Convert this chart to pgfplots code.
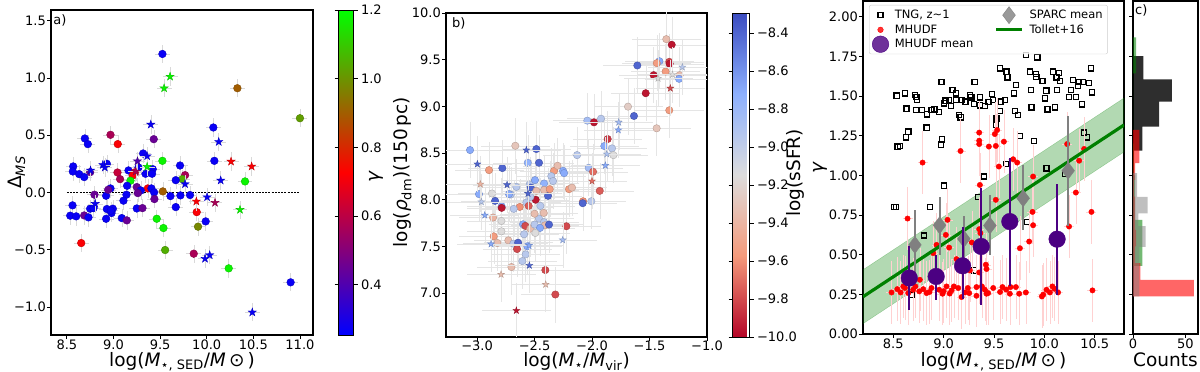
\documentclass[border=0pt]{standalone}
\usepackage{fontspec}
\setmainfont{DejaVu Sans}
\usepackage{pgfplots}
\pgfplotsset{compat=1.18}

\definecolor{indigo}{RGB}{75,0,130}
\definecolor{mplgreen}{RGB}{0,128,0}

% filled five-pointed star, like matplotlib's '*'
\pgfdeclareplotmark{fstar}{%
  \pgfpathmoveto{\pgfqpoint{0pt}{\pgfplotmarksize}}%
  \pgfpathlineto{\pgfqpoint{0.2245\pgfplotmarksize}{0.309\pgfplotmarksize}}%
  \pgfpathlineto{\pgfqpoint{0.951\pgfplotmarksize}{0.309\pgfplotmarksize}}%
  \pgfpathlineto{\pgfqpoint{0.363\pgfplotmarksize}{-0.118\pgfplotmarksize}}%
  \pgfpathlineto{\pgfqpoint{0.588\pgfplotmarksize}{-0.809\pgfplotmarksize}}%
  \pgfpathlineto{\pgfqpoint{0pt}{-0.382\pgfplotmarksize}}%
  \pgfpathlineto{\pgfqpoint{-0.588\pgfplotmarksize}{-0.809\pgfplotmarksize}}%
  \pgfpathlineto{\pgfqpoint{-0.363\pgfplotmarksize}{-0.118\pgfplotmarksize}}%
  \pgfpathlineto{\pgfqpoint{-0.951\pgfplotmarksize}{0.309\pgfplotmarksize}}%
  \pgfpathlineto{\pgfqpoint{-0.2245\pgfplotmarksize}{0.309\pgfplotmarksize}}%
  \pgfpathclose
  \pgfusepathqfillstroke
}

\pgfplotsset{
  colormap={brg}{rgb255=(0,0,255) rgb255=(255,0,0) rgb255=(0,255,0)},
  colormap={cwr}{rgb=(0.706,0.016,0.150) rgb=(0.958,0.603,0.482) rgb=(0.865,0.865,0.865) rgb=(0.552,0.690,0.996) rgb=(0.230,0.299,0.754)},
  every axis/.append style={
    scale only axis,
    tick label style={font=\fontsize{13}{15}\selectfont},
    label style={font=\fontsize{18.5}{21}\selectfont, inner sep=0pt},
    major tick length=4pt, tick align=outside,
    tick style={black, line width=0.8pt},
  },
  mpl/.style={anchor=south west, axis line style={line width=1.5pt}, tick pos=left,
    clip marker paths=true,
    xticklabel style={inner sep=1pt},
    yticklabel style={inner sep=1pt},
    ylabel style={anchor=base}},
}

\begin{document}
\begin{tikzpicture}
\useasboundingbox (0,0) rectangle (1200pt,372pt);

% ---------------- panel a ----------------
\begin{axis}[mpl, at={(51pt,37pt)}, width=262pt, height=325pt,
  xmin=8.33, xmax=11.14, ymin=-1.245, ymax=1.593,
  xtick={8.5,9,9.5,10,10.5,11}, xticklabels={8.5,9.0,9.5,10.0,10.5,11.0},
  ytick={-1,-0.5,0,0.5,1,1.5}, yticklabels={−1.0,−0.5,0.0,0.5,1.0,1.5},
  xlabel={log(\textit{M}\textsubscript{⋆, SED}/\textit{M}\,⊙\,)},
  ylabel={Δ\textsubscript{\textit{MS}}},
  xlabel style={at={(axis description cs:0.5,-0.0954)}, anchor=base},
  ylabel style={at={(axis description cs:-0.1126,0.5)}},
  colormap name=brg, point meta min=0.254, point meta max=1.2,
  colorbar,
  colorbar style={at={(parent axis.north east)}, anchor=north west, xshift=17pt, width=15pt,
    axis line style={line width=0.5pt},
    ytick={0.4,0.6,0.8,1.0,1.2}, yticklabels={0.4,0.6,0.8,1.0,1.2}},
]
\addplot[black, line width=0.8pt, dash pattern=on 2pt off 1.2pt] coordinates {(8.5,0) (11,0)};
\addplot[scatter, only marks, mark=*, mark size=3.85pt, scatter src=explicit,
  error bars/.cd, x dir=both, x fixed=0.08, y dir=both, y fixed=0.08,
  error bar style={black!15, line width=0.5pt}, error mark=none]
  table[meta=c]{
x y c
9.525 1.209 0.27
10.329 0.910 0.90
11.0 0.648 1.02
10.071 0.567 0.27
9.432 0.465 0.45
8.968 0.503 0.57
9.046 0.422 0.72
8.693 0.471 0.27
8.725 0.422 0.27
9.318 0.340 0.27
9.525 0.276 1.18
10.082 0.276 0.27
9.714 0.235 0.27
8.568 0.227 0.27
9.421 0.203 0.27
9.268 0.218 0.27
8.929 0.250 0.27
8.75 0.177 0.45
8.564 0.183 0.27
8.632 0.160 0.27
8.686 0.134 0.27
9.161 0.192 0.27
9.043 0.174 0.62
9.229 0.174 0.68
9.207 0.148 0.72
9.071 0.116 0.57
9.343 0.163 0.27
9.414 0.163 0.27
9.768 0.151 0.57
9.739 0.116 1.05
9.182 0.102 1.18
9.668 0.107 0.27
10.411 0.096 1.18
8.968 0.035 0.27
9.146 0.058 0.27
9.25 0.047 0.45
9.368 0.035 0.72
9.407 0.035 0.27
9.293 0.017 0.27
9.261 -0.006 0.45
9.529 0.009 0.90
9.436 0.000 0.27
9.611 -0.032 0.27
9.718 -0.026 0.27
9.821 -0.023 0.27
8.796 -0.020 0.45
8.921 -0.029 0.27
8.943 0.023 0.45
9.139 -0.020 0.27
9.439 -0.058 0.45
8.561 -0.113 0.27
9.107 -0.072 0.27
8.75 -0.142 0.27
8.786 -0.137 0.27
8.929 -0.145 0.27
8.993 -0.142 0.27
9.25 -0.140 0.27
9.311 -0.137 0.45
9.668 -0.128 0.27
9.893 -0.172 0.72
8.536 -0.203 0.27
8.6 -0.209 0.27
8.686 -0.201 0.45
8.732 -0.218 0.27
8.979 -0.180 0.27
8.921 -0.230 0.27
9.089 -0.224 0.27
9.143 -0.244 0.45
9.464 -0.230 1.18
9.989 -0.253 0.27
9.907 -0.299 0.98
9.536 -0.311 1.18
8.654 -0.442 0.72
9.554 -0.503 1.05
9.861 -0.535 0.57
10.236 -0.663 1.18
10.9 -0.785 0.27
8.971 -0.160 0.27
};
\addplot[scatter, only marks, mark=fstar, mark size=4.3pt, scatter src=explicit,
  error bars/.cd, x dir=both, x fixed=0.08, y dir=both, y fixed=0.08,
  error bar style={black!15, line width=0.5pt}, error mark=none]
  table[meta=c]{
x y c
9.607 1.012 1.18
9.543 0.910 1.18
9.40 0.593 0.27
10.129 0.442 0.27
9.361 0.317 0.27
9.257 0.273 0.40
10.261 0.270 0.72
10.482 0.227 0.72
9.361 0.224 1.18
8.886 0.241 0.27
8.907 0.218 0.27
8.754 0.192 0.27
9.239 0.183 0.57
9.768 0.073 0.27
10.15 0.105 0.27
10.004 -0.041 0.27
9.889 -0.078 0.72
10.089 -0.090 0.57
8.804 -0.099 0.27
10.357 -0.151 1.18
9.982 -0.578 0.27
10.032 -0.547 0.27
10.489 -1.047 0.27
};
\node[anchor=north west, inner sep=0pt, font=\fontsize{13}{15}\selectfont] at (rel axis cs:0.008,0.985) {a)};
\end{axis}

% ---------------- panel b ----------------
\begin{axis}[mpl, at={(446pt,35pt)}, width=261pt, height=324pt,
  xmin=-3.27, xmax=-1.0, ymin=6.53, ymax=10.0,
  xtick={-3,-2.5,-2,-1.5,-1}, xticklabels={−3.0,−2.5,−2.0,−1.5,−1.0},
  xticklabel style={yshift=1.5pt},
  ytick={7,7.5,8,8.5,9,9.5,10}, yticklabels={7.0,7.5,8.0,8.5,9.0,9.5,10.0},
  xlabel={log(\textit{M}\textsubscript{⋆}/\textit{M}\textsubscript{vir})},
  ylabel={log(\textit{ρ}\textsubscript{dm})(150\,pc)},
  xlabel style={at={(axis description cs:0.5,-0.091)}, anchor=base},
  ylabel style={at={(axis description cs:-0.1475,0.509)}},
  colormap name=cwr, point meta min=-10, point meta max=-8.295,
  colorbar,
  colorbar style={at={(parent axis.north east)}, anchor=north west, xshift=17pt, width=17pt,
    axis line style={line width=0.5pt},
    ytick={-10,-9.8,-9.6,-9.4,-9.2,-9,-8.8,-8.6,-8.4},
    yticklabels={−10.0,−9.8,−9.6,−9.4,−9.2,−9.0,−8.8,−8.6,−8.4}},
]
\addplot[scatter, only marks, mark=*, mark size=3.7pt, scatter src=explicit,
  error bars/.cd, x dir=both, x fixed=0.3, y dir=both, y fixed=0.3,
  error bar style={black!10, line width=0.4pt}, error mark=none]
  table[meta=c]{
x y c
-1.354 9.72 -9.35
-1.307 9.66 -9.95
-1.414 9.484 -8.7
-1.437 9.463 -9.55
-1.328 9.477 -9.8
-1.325 9.456 -9.95
-1.606 9.438 -8.4
-1.36 9.373 -9.55
-1.464 9.334 -9.95
-1.238 9.334 -9.35
-1.243 9.295 -8.7
-1.533 9.141 -9.95
-1.687 8.997 -9.25
-1.328 8.958 -9.55
-1.635 8.897 -8.4
-2.041 8.847 -8.85
-1.922 8.868 -8.95
-1.983 8.829 -9.95
-1.438 8.765 -9.3
-1.864 8.65 -9.85
-1.893 8.575 -8.7
-1.826 8.55 -8.95
-1.814 8.478 -9.15
-2.13 8.478 -8.95
-2.029 8.342 -8.85
-1.991 8.30 -9.7
-1.933 8.095 -9.75
-2.078 7.984 -9.6
-2.081 7.963 -8.4
-2.006 7.984 -8.95
-2.223 7.716 -9.8
-2.406 7.247 -9.8
-2.319 6.985 -9.8
-3.061 8.532 -8.7
-2.896 8.317 -9.55
-2.78 8.339 -8.4
-2.667 8.578 -9.3
-2.484 8.543 -8.4
-2.559 8.396 -8.75
-2.461 8.396 -8.4
-2.983 8.06 -8.7
-2.870 8.067 -9.15
-2.843 7.988 -8.4
-2.786 7.93 -8.7
-2.786 7.913 -9.95
-2.707 8.056 -8.95
-2.722 8.06 -8.7
-2.658 8.138 -8.95
-2.542 8.163 -8.95
-2.533 8.13 -8.4
-2.496 8.21 -8.7
-2.484 8.095 -9.35
-2.417 8.174 -8.75
-2.49 8.0 -9.95
-2.536 8.03 -8.95
-2.571 7.97 -8.95
-2.551 7.934 -9.75
-2.629 7.923 -9.6
-2.681 7.902 -8.95
-2.861 7.809 -9.4
-2.788 7.773 -9.15
-2.788 7.662 -9.15
-2.855 7.608 -9.55
-2.823 7.537 -9.35
-2.728 7.565 -9.35
-2.684 7.53 -8.95
-2.643 7.54 -8.4
-2.6 7.737 -8.7
-2.58 7.72 -9.8
-2.536 7.691 -9.35
-2.591 7.63 -8.95
-2.562 7.501 -8.7
-2.652 7.472 -9.8
-2.577 7.415 -8.95
-2.606 7.343 -8.95
-2.701 7.279 -9.35
-2.499 7.734 -8.95
-2.461 7.798 -8.95
-2.50 7.85 -9.35
-2.449 7.934 -8.95
-2.420 7.859 -9.35
-2.417 7.76 -8.95
-2.409 7.726 -9.35
-2.374 7.734 -8.4
-2.452 7.698 -8.7
-2.493 7.644 -9.15
-2.383 8.042 -8.4
-2.417 8.105 -9.35
-2.368 8.113 -9.55
-2.330 8.31 -9.55
-2.3 8.364 -9.35
-2.354 8.253 -8.95
-2.339 8.20 -8.95
-2.252 8.31 -8.7
-2.243 8.285 -8.7
-2.2 8.113 -9.55
-2.174 8.13 -9.35
};
\addplot[scatter, only marks, mark=fstar, mark size=3.6pt, scatter src=explicit,
  error bars/.cd, x dir=both, x fixed=0.3, y dir=both, y fixed=0.3,
  error bar style={black!10, line width=0.4pt}, error mark=none]
  table[meta=c]{
x y c
-1.214 9.42 -8.95
-1.426 9.30 -9.15
-1.30 9.34 -9.15
-1.319 9.194 -9.8
-1.768 8.829 -8.85
-1.771 8.747 -8.7
-1.872 8.489 -8.9
-1.884 8.367 -8.7
-2.0 8.20 -9.7
-2.255 7.569 -8.85
-2.403 7.093 -9.35
-2.658 6.813 -9.95
-2.997 8.382 -8.4
-2.571 8.532 -8.4
-2.971 8.167 -9.4
-2.962 7.977 -8.95
-2.739 8.16 -8.4
-2.557 8.067 -8.4
-2.933 7.834 -8.7
-2.878 7.526 -8.7
-2.548 7.51 -8.7
-2.791 7.2 -9.35
-2.545 7.297 -8.4
};
\node[anchor=north west, inner sep=0pt, font=\fontsize{13}{15}\selectfont] at (rel axis cs:0.023,0.985) {b)};
\end{axis}

% ---------------- panel c ----------------
\begin{axis}[mpl, at={(863pt,38pt)}, width=261pt, height=333pt,
  xmin=8.2, xmax=10.79, ymin=0, ymax=2.1,
  xtick={8.5,9,9.5,10,10.5}, xticklabels={8.5,9.0,9.5,10.0,10.5},
  ytick={0,0.25,0.5,0.75,1,1.25,1.5,1.75,2},
  yticklabels={0.00,0.25,0.50,0.75,1.00,1.25,1.50,1.75,2.00},
  xlabel={log(\textit{M}\textsubscript{⋆, SED}/\textit{M}\,⊙\,)},
  ylabel={\textit{γ}},
  xlabel style={at={(axis description cs:0.5,-0.0961)}, anchor=base},
  ylabel style={at={(axis description cs:-0.153,0.5)}},
  legend columns=2, legend cell align=left,
  legend style={at={(axis description cs:0.023,0.988)}, anchor=north west,
    draw=black!20, rounded corners=2pt, fill=white, fill opacity=0.8, text opacity=1,
    font=\fontsize{11.5}{13}\selectfont, inner xsep=3pt, inner ysep=1.5pt, row sep=-1pt,
    /tikz/every odd column/.append style={column sep=4pt},
    /tikz/every even column/.append style={column sep=19pt}},
  legend image code/.code={\draw[mark repeat=2, mark phase=2, #1] plot coordinates {(0pt,0pt) (13pt,0pt) (26pt,0pt)};},
]
\addlegendimage{only marks, mark=square, mark size=2.6pt, black, line width=1.3pt}
\addlegendentry{TNG, z\textasciitilde 1}
\addlegendimage{only marks, mark=diamond*, mark size=8.5pt, gray}
\addlegendentry{SPARC mean}
\addlegendimage{only marks, mark=*, mark size=2.8pt, red}
\addlegendentry{MHUDF}
\addlegendimage{mplgreen, line width=3pt}
\addlegendentry{Tollet+16}
\addlegendimage{only marks, mark=*, mark size=8.3pt, indigo}
\addlegendentry{MHUDF mean}

% Tollet+16 band
\addplot[forget plot, fill=mplgreen, fill opacity=0.3, draw=mplgreen, draw opacity=0.3]
  coordinates {(8.2,0.405) (10.79,1.488) (10.79,1.148) (8.2,0.065)} --cycle;

% TNG z~1
\addplot[forget plot, only marks, mark=square, mark size=2.6pt, black, line width=1.3pt] table{
x y
9.816 1.759
9.931 1.744
9.558 1.675
9.624 1.654
9.634 1.618
10.464 1.675
9.855 1.654
9.915 1.639
9.921 1.622
10.087 1.654
10.146 1.647
10.120 1.618
10.153 1.597
9.981 1.597
10.285 1.601
10.345 1.589
10.384 1.589
10.444 1.584
8.979 1.589
9.307 1.589
9.717 1.570
10.335 1.563
9.088 1.538
9.124 1.517
8.533 1.503
8.616 1.517
8.715 1.507
8.731 1.496
8.738 1.475
9.479 1.513
9.260 1.505
9.276 1.492
9.359 1.492
9.697 1.517
9.865 1.538
10.020 1.534
10.123 1.538
10.262 1.538
10.470 1.524
10.312 1.496
10.246 1.496
10.007 1.486
9.055 1.475
9.019 1.471
9.124 1.475
9.006 1.454
9.075 1.438
9.178 1.475
9.217 1.465
9.300 1.450
9.359 1.442
9.409 1.438
9.445 1.463
9.492 1.475
9.564 1.465
9.611 1.475
8.632 1.421
8.725 1.412
8.781 1.412
8.834 1.385
8.880 1.412
8.907 1.417
8.956 1.400
9.155 1.381
9.168 1.366
9.558 1.406
9.710 1.406
9.740 1.381
9.872 1.429
10.031 1.417
10.103 1.429
10.371 1.448
9.525 1.360
9.519 1.318
8.831 1.301
8.649 1.276
8.626 1.240
8.566 1.186
8.543 1.182
8.983 1.228
8.976 1.194
9.756 1.249
9.898 1.217
10.391 1.270
10.424 1.240
9.624 1.072
10.021 1.045
10.202 1.009
9.402 0.993
9.002 0.936
9.343 0.863
8.507 0.800
8.526 0.800
8.867 0.800
9.829 0.705
8.804 0.621
9.300 0.401
8.682 0.248
};

% MHUDF galaxies
\addplot[forget plot, only marks, mark=*, mark size=2.7pt, red,
  error bars/.cd, x dir=both, x fixed=0.05, y dir=both, y fixed=0.2,
  error bar style={red!18, line width=0.4pt}, error mark=none] table{
x y
9.353 1.270
9.508 1.261
9.531 1.286
9.353 1.219
9.353 1.198
9.449 1.182
9.518 1.186
9.598 1.213
10.226 1.198
10.394 1.167
9.168 1.154
9.690 1.102
9.730 1.081
10.345 1.093
8.791 1.081
9.548 1.056
9.888 0.993
9.360 0.940
10.312 0.892
9.518 0.846
9.882 0.770
10.467 0.770
8.642 0.728
9.039 0.720
9.888 0.686
10.245 0.678
9.353 0.661
9.365 0.636
9.022 0.625
8.930 0.562
9.055 0.545
9.280 0.577
9.849 0.583
9.757 0.541
10.113 0.581
8.897 0.510
9.128 0.472
9.419 0.437
9.426 0.410
9.260 0.401
9.353 0.388
8.956 0.346
8.764 0.342
8.483 0.262
8.540 0.283
8.573 0.262
8.616 0.290
8.698 0.279
8.758 0.269
8.798 0.283
8.831 0.258
8.880 0.290
8.956 0.279
8.989 0.254
9.029 0.300
9.079 0.275
9.102 0.300
9.145 0.290
9.211 0.262
9.254 0.258
9.326 0.296
9.409 0.279
9.442 0.258
9.492 0.290
9.584 0.296
9.664 0.296
9.717 0.296
9.657 0.254
9.750 0.254
9.816 0.262
9.988 0.248
9.975 0.237
10.054 0.262
10.080 0.300
10.136 0.262
10.477 0.275
8.649 0.258
9.426 0.254
9.326 0.241
9.178 0.233
10.021 0.279
8.600 0.300
8.720 0.300
8.860 0.265
9.000 0.270
9.060 0.255
9.240 0.290
9.380 0.300
9.560 0.265
9.620 0.280
10.100 0.285
};

% Tollet+16 relation
\addplot[forget plot, mplgreen, line width=3.2pt] coordinates {(8.2,0.235) (10.79,1.318)};

% SPARC mean
\addplot[forget plot, only marks, mark=diamond*, mark size=8.5pt, gray,
  error bars/.cd, y dir=both, y explicit, error bar style={line width=2pt, gray}, error mark=none]
  coordinates {
  (8.715,0.562) += (0,0.221) -= (0,0.230)
  (8.960,0.686) += (0,0.181) -= (0,0.186)
  (9.201,0.600) += (0,0.145) -= (0,0.153)
  (9.459,0.684) += (0,0.193) -= (0,0.184)
  (9.789,0.856) += (0,0.210) -= (0,0.199)
  (10.236,1.030) += (0,0.344) -= (0,0.352)
};

% MHUDF mean
\addplot[forget plot, only marks, mark=*, mark size=8.3pt, indigo,
  error bars/.cd, y dir=both, y explicit, error bar style={line width=2pt, indigo}, error mark=none]
  coordinates {
  (8.659,0.353) += (0,0.199) -= (0,0.200)
  (8.926,0.363) += (0,0.137) -= (0,0.147)
  (9.188,0.430) += (0,0.244) -= (0,0.210)
  (9.373,0.552) += (0,0.367) -= (0,0.367)
  (9.657,0.709) += (0,0.399) -= (0,0.405)
  (10.126,0.598) += (0,0.349) -= (0,0.350)
};
\end{axis}

% ---------------- panel c histogram ----------------
\begin{axis}[mpl, at={(1133pt,38pt)}, width=65pt, height=333pt,
  xmin=0, xmax=62, ymin=0, ymax=2.1,
  xtick={0,50}, xticklabels={0,50},
  ytick={0,0.25,0.5,0.75,1,1.25,1.5,1.75,2}, yticklabels={},
  xlabel={Counts},
  xlabel style={at={(axis description cs:0.5,-0.0961)}, anchor=base},
]
\addplot[xbar interval, fill=black, fill opacity=0.82, draw=none]
  coordinates {(9,1.156) (25,1.307) (37,1.465) (10,1.606) (0,1.753)};
\addplot[xbar interval, fill=mplgreen, fill opacity=0.55, draw=none]
  coordinates {(9,0.43) (2,0.72) (1,1.0) (0,1.2) (3,1.643) (0,1.87)};
\addplot[xbar interval, fill=red, fill opacity=0.6, draw=none]
  coordinates {(58,0.237) (7,0.342) (2,0.447) (3,0.552) (2,0.657) (2,0.762) (1,0.867) (2,0.972) (6,1.077) (6,1.182) (0,1.287)};
\addplot[xbar interval, fill=gray, fill opacity=0.5, draw=none]
  coordinates {(6,0.237) (12,0.55) (5,0.68) (14,0.76) (4,0.865) (0,1.015)};
\node[anchor=north west, inner sep=0pt, font=\fontsize{13}{15}\selectfont] at (rel axis cs:0.03,0.99) {c)};
\end{axis}

% colour bar labels
\node[rotate=90, anchor=base, inner sep=0pt, font=\fontsize{18.5}{21}\selectfont] at (379pt,195pt) {\textit{γ}};
\node[rotate=90, anchor=base, inner sep=0pt, font=\fontsize{18.5}{21}\selectfont] at (800pt,199pt) {log(sSFR)};
\end{tikzpicture}
\end{document}
